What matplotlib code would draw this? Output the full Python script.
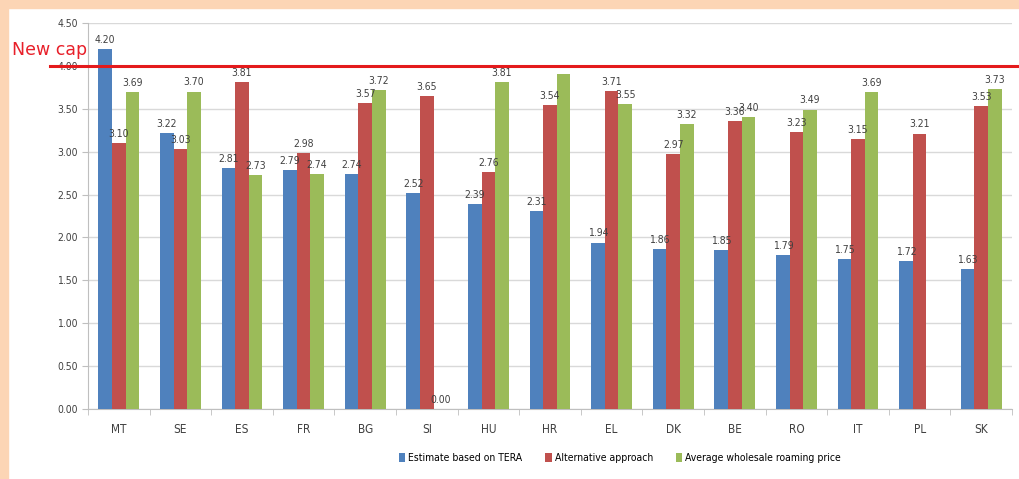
import numpy as np
import matplotlib
matplotlib.use("Agg")
import matplotlib.pyplot as plt
from matplotlib.transforms import blended_transform_factory

plt.rcParams['font.family'] = ['DejaVu Sans']
plt.rcParams['font.stretch'] = 'condensed'

# wholesale roaming price estimates per country (eurocent/min)
countries = ['MT', 'SE', 'ES', 'FR', 'BG', 'SI', 'HU', 'HR', 'EL', 'DK', 'BE', 'RO', 'IT', 'PL', 'SK']
tera = [4.20, 3.22, 2.81, 2.79, 2.74, 2.52, 2.39, 2.31, 1.94, 1.86, 1.85, 1.79, 1.75, 1.72, 1.63]
alternative = [3.10, 3.03, 3.81, 2.98, 3.57, 3.65, 2.76, 3.54, 3.71, 2.97, 3.36, 3.23, 3.15, 3.21, 3.53]
avg_wholesale = [3.69, 3.70, 2.73, 2.74, 3.72, 0.00, 3.81, 3.91, 3.55, 3.32, 3.40, 3.49, 3.69, np.nan, 3.73]
hidden_labels = {'HR'}   # value label hidden behind the cap line

series_names = ['Estimate based on TERA', 'Alternative approach', 'Average wholesale roaming price']
series_colors = ['#4F81BD', '#C0504D', '#9BBB59']
new_cap = 4.00

fig = plt.figure(figsize=(10.2, 4.79), dpi=100)
fig.patch.set_facecolor('white')

# peach frame on the left and top
fig.patches.append(plt.Rectangle((0, 0), 8 / 1020, 1, transform=fig.transFigure,
                                 color='#FCD5B5', zorder=0))
fig.patches.append(plt.Rectangle((0, 1 - 8 / 479), 1, 8 / 479, transform=fig.transFigure,
                                 color='#FCD5B5', zorder=0))

ax = fig.add_axes([88 / 1020, 1 - 409 / 479, (1012 - 88) / 1020, (409 - 23) / 479])

x = np.arange(len(countries))
w = 0.22
for k, (vals, name, col) in enumerate(zip([tera, alternative, avg_wholesale], series_names, series_colors)):
    pos = x + (k - 1) * w
    ax.bar(pos, vals, width=w, color=col, label=name, zorder=3)
    for p, v, c in zip(pos, vals, countries):
        if np.isnan(v):
            continue
        if k == 2 and c in hidden_labels:
            continue
        ax.annotate(f'{v:.2f}', (p, v), xytext=(0, 3), textcoords='offset points',
                    ha='center', va='bottom', fontsize=7.5, color='#404040', zorder=4)

ax.set_xlim(-0.5, len(countries) - 0.5)
ax.set_ylim(0, 4.5)
ax.set_yticks(np.arange(0, 4.51, 0.5))
ax.set_yticklabels([f'{t:.2f}' for t in np.arange(0, 4.51, 0.5)], fontsize=7.5, color='#404040')
ax.set_xticks(x)
ax.set_xticklabels(countries, fontsize=8.5, color='#404040')
ax.tick_params(axis='x', length=0, pad=10)
ax.tick_params(axis='y', length=4, color='#BFBFBF')
ax.set_xticks(np.arange(-0.5, len(countries), 1), minor=True)
ax.tick_params(axis='x', which='minor', length=4, color='#BFBFBF')
ax.grid(axis='y', color='#D9D9D9', linewidth=1, zorder=0)
for s in ['top', 'right']:
    ax.spines[s].set_visible(False)
ax.spines['left'].set_color('#BFBFBF')
ax.spines['bottom'].set_color('#BFBFBF')

# new price cap line running across the whole figure
trans = blended_transform_factory(fig.transFigure, ax.transData)
ax.plot([50 / 1020, 1.0], [new_cap, new_cap], color='#E41A1C', linewidth=2.2,
        transform=trans, clip_on=False, zorder=5)
fig.text(12 / 1020, 1 - 50 / 479, 'New cap', color='#E8202A', fontsize=12.5,
         stretch='normal', ha='left', va='center')

handles, labels = ax.get_legend_handles_labels()
fig.legend(handles, labels, loc='center', bbox_to_anchor=(620 / 1020, 1 - 458 / 479),
           ncol=3, frameon=False, fontsize=7.5, handlelength=0.6, handleheight=0.9,
           handletextpad=0.3, columnspacing=2.2)

fig.savefig('out.png', dpi=100)
